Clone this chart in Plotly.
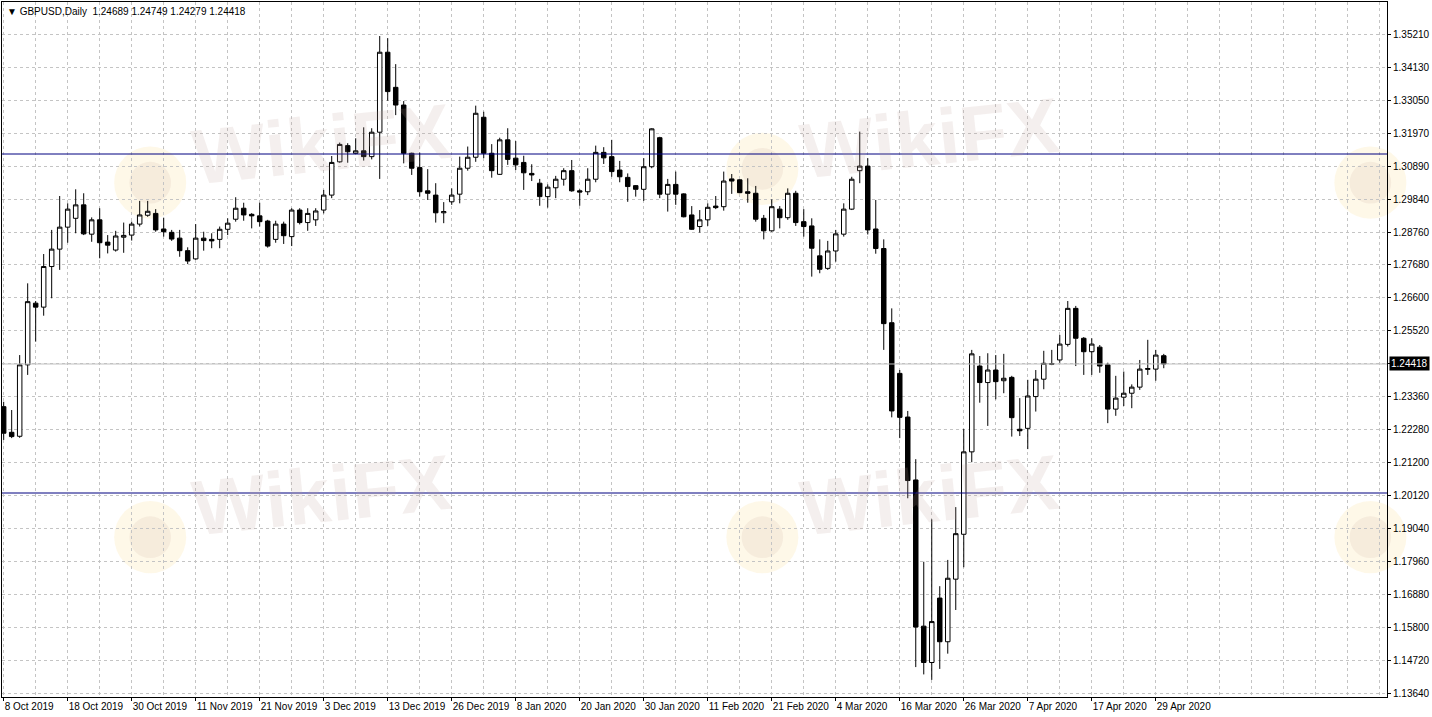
import pandas as pd
import plotly.graph_objects as go

# ---- trading calendar (daily bars, weekdays minus market holidays) ----
all_days = pd.bdate_range("2019-10-08", "2020-04-30")
holidays = pd.to_datetime(["2019-12-25", "2020-01-01"])
dates = [d for d in all_days if d not in holidays]

# ---- OHLC values ----
opens = [1.2302, 1.2218, 1.2205, 1.2439, 1.2641, 1.2628, 1.2761, 1.2818, 1.2890, 1.2919,
         1.2963, 1.2867, 1.2914, 1.2841, 1.2815, 1.2857, 1.2864, 1.2900, 1.2929, 1.2935,
         1.2884, 1.2873, 1.2854, 1.2813, 1.2786, 1.2854, 1.2850, 1.2850, 1.2883, 1.2916,
         1.2952, 1.2932, 1.2927, 1.2910, 1.2850, 1.2900, 1.2859, 1.2946, 1.2905, 1.2914,
         1.2946, 1.2995, 1.3104, 1.3157, 1.3132, 1.3140, 1.3121, 1.3201, 1.3463, 1.3348,
         1.3290, 1.3132, 1.3085, 1.3009, 1.2995, 1.2937, 1.2973, 1.2998, 1.3083, 1.3119,
         1.3250, 1.3132, 1.3063, 1.3176, 1.3116, 1.3102, 1.3066, 1.3034, 1.2990, 1.3019,
         1.3047, 1.3075, 1.3009, 1.3006, 1.3047, 1.3135, 1.3121, 1.3077, 1.3053, 1.3026,
         1.3014, 1.3088, 1.3183, 1.2998, 1.3030, 1.2999, 1.2930, 1.2892, 1.2914, 1.2959,
         1.2957, 1.3048, 1.3045, 1.3006, 1.3001, 1.2919, 1.2878, 1.2949, 1.2921, 1.3001,
         1.2908, 1.2894, 1.2796, 1.2755, 1.2812, 1.2867, 1.2949, 1.3075, 1.3090, 1.2884,
         1.2820, 1.2577, 1.2411, 1.2268, 1.2062, 1.1583, 1.1464, 1.1675, 1.1532, 1.1737,
         1.1884, 1.2154, 1.2435, 1.2381, 1.2422, 1.2387, 1.2398, 1.2228, 1.2231, 1.2335,
         1.2392, 1.2443, 1.2455, 1.2506, 1.2624, 1.2526, 1.2482, 1.2497, 1.2439, 1.2294,
         1.2333, 1.2346, 1.2366, 1.2424, 1.2425, 1.24689]
highs = [1.2318, 1.2291, 1.2471, 1.2706, 1.2648, 1.2802, 1.2881, 1.2992, 1.2968, 1.3014,
         1.3001, 1.2922, 1.2952, 1.2864, 1.2878, 1.2905, 1.2908, 1.2976, 1.2976, 1.2949,
         1.2921, 1.2881, 1.2881, 1.2824, 1.2900, 1.2875, 1.2870, 1.2892, 1.2919, 1.2988,
         1.2970, 1.2936, 1.2970, 1.2914, 1.2911, 1.2908, 1.2952, 1.2952, 1.2952, 1.2952,
         1.3012, 1.3123, 1.3167, 1.3165, 1.3181, 1.3217, 1.3214, 1.3516, 1.3509, 1.3424,
         1.3303, 1.3134, 1.3134, 1.3080, 1.3034, 1.2972, 1.3017, 1.3121, 1.3154, 1.3288,
         1.3268, 1.3162, 1.3183, 1.3214, 1.3172, 1.3124, 1.3096, 1.3048, 1.3030, 1.3058,
         1.3083, 1.3110, 1.3014, 1.3083, 1.3157, 1.3152, 1.3176, 1.3107, 1.3066, 1.3028,
         1.3116, 1.3214, 1.3186, 1.3048, 1.3072, 1.3001, 1.2959, 1.2946, 1.2968, 1.2992,
         1.3072, 1.3064, 1.3047, 1.3050, 1.3025, 1.2930, 1.2981, 1.2959, 1.3017, 1.3009,
         1.2949, 1.2919, 1.2850, 1.2845, 1.2881, 1.2968, 1.3055, 1.3203, 1.3116, 1.2979,
         1.2850, 1.2624, 1.2422, 1.2288, 1.2130, 1.1794, 1.1933, 1.1714, 1.1800, 1.1973,
         1.2229, 1.2488, 1.2468, 1.2477, 1.2471, 1.2475, 1.2403, 1.2330, 1.2390, 1.2422,
         1.2485, 1.2488, 1.2537, 1.2648, 1.2632, 1.2530, 1.2526, 1.2504, 1.2446, 1.2403,
         1.2417, 1.2375, 1.2455, 1.2521, 1.2488, 1.24749]
lows = [1.2193, 1.2199, 1.2200, 1.2406, 1.2515, 1.2600, 1.2657, 1.2750, 1.2839, 1.2870,
        1.2864, 1.2842, 1.2788, 1.2804, 1.2810, 1.2806, 1.2846, 1.2892, 1.2924, 1.2875,
        1.2859, 1.2845, 1.2793, 1.2769, 1.2783, 1.2813, 1.2821, 1.2821, 1.2864, 1.2908,
        1.2911, 1.2886, 1.2892, 1.2823, 1.2839, 1.2835, 1.2828, 1.2899, 1.2878, 1.2894,
        1.2935, 1.2985, 1.3101, 1.3101, 1.3130, 1.3108, 1.3112, 1.3048, 1.3304, 1.3257,
        1.3099, 1.3061, 1.2990, 1.2979, 1.2905, 1.2903, 1.2963, 1.2968, 1.3075, 1.3104,
        1.3116, 1.3052, 1.3061, 1.3094, 1.3077, 1.3012, 1.3041, 1.2960, 1.2954, 1.2985,
        1.3026, 1.3006, 1.2960, 1.2995, 1.3037, 1.3097, 1.3055, 1.3037, 1.2973, 1.2990,
        1.2976, 1.3083, 1.2985, 1.2941, 1.2963, 1.2922, 1.2881, 1.2872, 1.2894, 1.2949,
        1.2944, 1.2999, 1.3001, 1.2970, 1.2908, 1.2850, 1.2875, 1.2886, 1.2914, 1.2894,
        1.2859, 1.2728, 1.2739, 1.2750, 1.2777, 1.2859, 1.2946, 1.3034, 1.2866, 1.2803,
        1.2488, 1.2267, 1.2199, 1.2002, 1.1449, 1.1425, 1.1407, 1.1443, 1.1493, 1.1636,
        1.1776, 1.2120, 1.2315, 1.2239, 1.2326, 1.2346, 1.2204, 1.2206, 1.2163, 1.2286,
        1.2359, 1.2438, 1.2446, 1.2499, 1.2435, 1.2406, 1.2406, 1.2413, 1.2248, 1.2272,
        1.2304, 1.2297, 1.2357, 1.2406, 1.2387, 1.24279]
closes = [1.2215, 1.2204, 1.2439, 1.2646, 1.2628, 1.2761, 1.2818, 1.2890, 1.2949, 1.2963,
          1.2868, 1.2914, 1.2839, 1.2831, 1.2861, 1.2863, 1.2900, 1.2930, 1.2942, 1.2881,
          1.2875, 1.2851, 1.2813, 1.2779, 1.2854, 1.2846, 1.2845, 1.2883, 1.2903, 1.2952,
          1.2930, 1.2927, 1.2908, 1.2828, 1.2900, 1.2862, 1.2946, 1.2905, 1.2935, 1.2943,
          1.2995, 1.3102, 1.3161, 1.3137, 1.3140, 1.3121, 1.3201, 1.3463, 1.3334, 1.3290,
          1.3132, 1.3083, 1.3006, 1.3001, 1.2937, 1.2941, 1.2995, 1.3083, 1.3119, 1.3263,
          1.3132, 1.3075, 1.3176, 1.3112, 1.3094, 1.3068, 1.3061, 1.2990, 1.3021, 1.3047,
          1.3075, 1.3009, 1.3005, 1.3047, 1.3135, 1.3117, 1.3072, 1.3055, 1.3023, 1.3014,
          1.3088, 1.3212, 1.2998, 1.3030, 1.2998, 1.2924, 1.2883, 1.2914, 1.2955, 1.2954,
          1.3041, 1.3041, 1.3003, 1.3001, 1.2916, 1.2878, 1.2957, 1.2921, 1.3001, 1.2905,
          1.2892, 1.2821, 1.2752, 1.2812, 1.2868, 1.2949, 1.3047, 1.3090, 1.2881, 1.2820,
          1.2574, 1.2288, 1.2267, 1.2060, 1.1580, 1.1464, 1.1598, 1.1532, 1.1740, 1.1886,
          1.2154, 1.2475, 1.2381, 1.2422, 1.2384, 1.2395, 1.2266, 1.2223, 1.2337, 1.2392,
          1.2444, 1.2441, 1.2507, 1.2624, 1.2526, 1.2482, 1.2507, 1.2435, 1.2294, 1.2330,
          1.2346, 1.2366, 1.2425, 1.2427, 1.2471, 1.24418]

# ---- axis labels ----
date_labels = ["8 Oct 2019", "18 Oct 2019", "30 Oct 2019", "11 Nov 2019", "21 Nov 2019",
               "3 Dec 2019", "13 Dec 2019", "26 Dec 2019", "8 Jan 2020", "20 Jan 2020",
               "30 Jan 2020", "11 Feb 2020", "21 Feb 2020", "4 Mar 2020", "16 Mar 2020",
               "26 Mar 2020", "7 Apr 2020", "17 Apr 2020", "29 Apr 2020"]
price_labels = ["1.35210", "1.34130", "1.33050", "1.31970", "1.30890", "1.29840", "1.28760",
                "1.27680", "1.26600", "1.25520", "", "1.23360", "1.22280", "1.21200",
                "1.20120", "1.19040", "1.17960", "1.16880", "1.15800", "1.14720", "1.13640"]
price_top, price_step = 1.3521, 0.010785
last_price = 1.24418
hlines = [1.31296, 1.20192]
header = "▼ GBPUSD,Daily  1.24689 1.24749 1.24279 1.24418"

n = len(opens)
xs = list(range(n))
label_pos = list(range(0, n, 8))[:len(date_labels)]
price_vals = [price_top - k * price_step for k in range(len(price_labels))]

FONT = "Liberation Sans"
GRID = "#c4c4c4"

fig = go.Figure()
fig.add_trace(go.Candlestick(
    x=xs, open=opens, high=highs, low=lows, close=closes,
    increasing=dict(fillcolor="white", line=dict(color="black", width=1)),
    decreasing=dict(fillcolor="black", line=dict(color="black", width=1)),
    whiskerwidth=0, hoverinfo="skip", name="GBPUSD",
))

# horizontal lines
for hv in hlines:
    fig.add_shape(type="line", xref="paper", x0=0, x1=1, yref="y", y0=hv, y1=hv,
                  line=dict(color="#000080", width=1), layer="above")
fig.add_shape(type="line", xref="paper", x0=0, x1=1, yref="y", y0=last_price, y1=last_price,
              line=dict(color="#c0c0c0", width=1), layer="above")

# watermark (WikiFX)
wm_text = [(0.231, 0.795), (0.67, 0.805), (0.231, 0.29), (0.67, 0.29)]
for (px, py) in wm_text:
    fig.add_annotation(xref="paper", yref="paper", x=px, y=py, text="<b>WikiFX</b>",
                       xanchor="center", yanchor="middle",
                       showarrow=False, textangle=-6,
                       font=dict(family=FONT, size=78, color="rgba(190,160,155,0.17)"))
wm_logo = [(0.107, 0.74), (0.549, 0.76), (0.988, 0.74), (0.107, 0.23), (0.549, 0.23), (0.988, 0.23)]
for (px, py) in wm_logo:
    fig.add_shape(type="circle", xref="paper", yref="paper", layer="below",
                  x0=px - 0.026, x1=px + 0.026, y0=py - 0.052, y1=py + 0.052,
                  fillcolor="rgba(250,225,150,0.22)", line=dict(width=0))
    fig.add_shape(type="circle", xref="paper", yref="paper", layer="below",
                  x0=px - 0.015, x1=px + 0.015, y0=py - 0.030, y1=py + 0.030,
                  fillcolor="rgba(200,165,150,0.14)", line=dict(width=0))

# header and current price label
fig.add_annotation(xref="paper", yref="paper", x=0, y=1, xanchor="left", yanchor="top",
                   xshift=3, yshift=-2, text=header, showarrow=False,
                   font=dict(family=FONT, size=10, color="black"))
fig.add_annotation(xref="paper", yref="y", x=1, y=last_price, xanchor="left", yanchor="middle",
                   xshift=2, text=f"{last_price:.5f}", showarrow=False,
                   bgcolor="black", borderpad=1,
                   font=dict(family=FONT, size=10, color="white"))

fig.update_layout(
    width=1432, height=717,
    margin=dict(l=2, r=45, t=2, b=20, autoexpand=False),
    paper_bgcolor="white", plot_bgcolor="white",
    showlegend=False, boxgap=0.2,
    font=dict(family=FONT, size=10, color="black"),
)
fig.update_xaxes(
    range=[-0.21, 172.9], rangeslider_visible=False, automargin=False,
    tickmode="array", tickvals=label_pos, ticktext=date_labels, tickangle=0,
    ticks="outside", ticklen=3, tickcolor="black",
    ticklabelposition="outside right",
    showgrid=False, zeroline=False,
    minor=dict(tickmode="linear", tick0=0, dtick=4, showgrid=True,
               gridcolor=GRID, griddash="3px,3px", gridwidth=1, ticks=""),
    showline=True, mirror=True, linecolor="black", linewidth=1,
)
fig.update_yaxes(
    side="right", range=[1.13510, 1.36275], automargin=False,
    tickmode="array", tickvals=price_vals, ticktext=price_labels,
    ticks="outside", ticklen=3, tickcolor="black",
    showgrid=True, gridcolor=GRID, griddash="3px,3px", gridwidth=1, zeroline=False,
    showline=True, mirror=True, linecolor="black", linewidth=1,
)

fig.write_html(
    "out.html",
    config={"displayModeBar": False},
    post_script="document.body.style.margin='0px';document.body.style.overflow='hidden';",
)
